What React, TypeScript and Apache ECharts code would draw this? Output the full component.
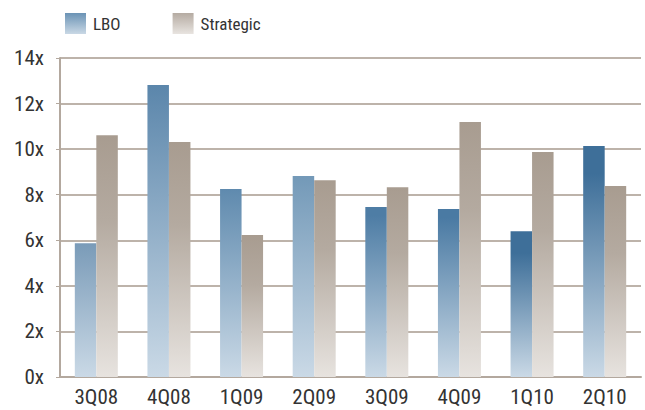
import React, { useEffect, useRef } from "react";
import * as echarts from "echarts";

const categories = ["3Q08", "4Q08", "1Q09", "2Q09", "3Q09", "4Q09", "1Q10", "2Q10"];
const lboValues = [5.87, 12.82, 8.25, 8.82, 7.46, 7.37, 6.4, 10.14];
const strategicValues = [10.61, 10.31, 6.23, 8.64, 8.33, 11.19, 9.87, 8.38];
const lboTopColors = ["#7A9BB8", "#5B86AB", "#5F8AAE", "#7399B8", "#4E7DA5", "#4A7AA3", "#3E6F99", "#3E6F99"];
const lboDarkStop = [0, 0, 0, 0, 0.05, 0.05, 0.15, 0.12];
const yTicks = [0, 2, 4, 6, 8, 10, 12, 14];

const FONT = "'Liberation Sans Narrow', 'Arial Narrow', 'Roboto Condensed', 'Liberation Sans', sans-serif";

const grad = (stops: [number, string][]) =>
  new echarts.graphic.LinearGradient(0, 0, 0, 1, stops.map(([offset, color]) => ({ offset, color })));

export default function App() {
  const ref = useRef<HTMLDivElement>(null);
  useEffect(() => {
    if (!ref.current) return;
    const chart = echarts.init(ref.current, null, { renderer: "svg" });
    const lboLegend = grad([[0, "#6B93B5"], [1, "#C9D8E5"]]);
    const stratGrad = () => grad([[0, "#A89C90"], [0.35, "#B4AAA0"], [1, "#E7E3DF"]]);
    chart.setOption({
      animation: false,
      textStyle: { fontFamily: FONT },
      legend: {
        left: 60,
        top: 8,
        icon: "rect",
        itemWidth: 21,
        itemHeight: 21,
        itemGap: 52,
        textStyle: { fontFamily: FONT, fontSize: 17, color: "#333", padding: [0, 0, 0, 2] },
        data: [
          { name: "LBO", itemStyle: { color: lboLegend } },
          { name: "Strategic", itemStyle: { color: grad([[0, "#B5ABA2"], [1, "#E8E4E0"]]) } },
        ],
      },
      grid: { left: 60, right: 4, top: 58, bottom: 33 },
      xAxis: {
        type: "category",
        data: categories,
        axisLine: { lineStyle: { color: "#B3A89E", width: 2 } },
        axisTick: { show: false },
        axisLabel: { color: "#333", fontSize: 21, fontFamily: FONT, margin: 9 },
      },
      yAxis: {
        type: "value",
        min: 0,
        max: 14,
        interval: 2,
        axisLine: { show: true, lineStyle: { color: "#B3A89E", width: 2 } },
        axisTick: { show: true, inside: false, length: 4, lineStyle: { color: "#B3A89E" } },
        splitLine: { lineStyle: { color: "#BDB3AA", width: 2 } },
        axisLabel: {
          color: "#333",
          fontSize: 21,
          fontFamily: FONT,
          margin: 16,
          formatter: (v: number) => (yTicks.includes(v) ? `${v}x` : ""),
        },
      },
      series: [
        {
          name: "LBO",
          type: "bar",
          barWidth: 21.5,
          barGap: "0%",
          itemStyle: { color: lboLegend },
          data: lboValues.map((v, i) => ({
            value: v,
            itemStyle: {
              color: grad([
                [0, lboTopColors[i]],
                [lboDarkStop[i], lboTopColors[i]],
                [1, "#CAD9E6"],
              ]),
            },
          })),
        },
        {
          name: "Strategic",
          type: "bar",
          barWidth: 21.5,
          barGap: "0%",
          itemStyle: { color: grad([[0, "#B5ABA2"], [1, "#E8E4E0"]]) },
          data: strategicValues.map((v) => ({ value: v, itemStyle: { color: stratGrad() } })),
        },
      ],
    });
    return () => chart.dispose();
  }, []);
  return <div ref={ref} style={{ width: 645, height: 410, position: "absolute", left: 0, top: 0 }} />;
}
